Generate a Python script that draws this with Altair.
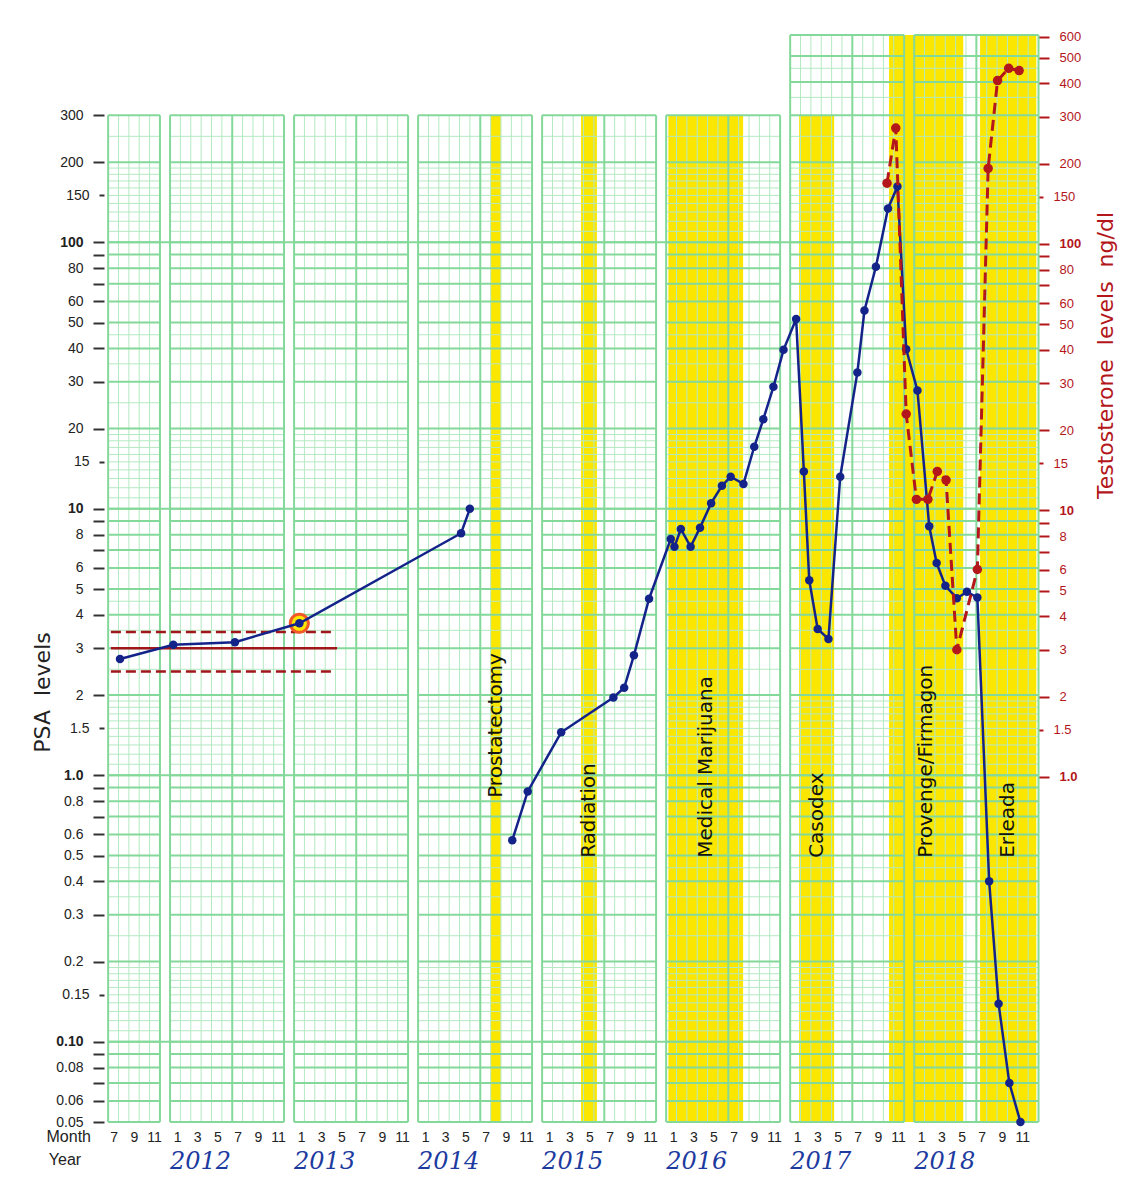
import altair as alt
import pandas as pd

# ---------------- layout of the time axis (month units, 1 = mid-January) ----------------
YEAR_SLOT = 12.28      # one year block incl. the white gap between blocks
COLUMN = 1.026         # width of one grid column of the paper
X_DOMAIN = [-7.23, 85.25]

# ---------------- PSA measurements ----------------
psa_dates = ["2011-08-04", "2012-01-04", "2012-07-07", "2013-01-10", "2014-05-02", "2014-05-28",
             "2014-10-04", "2014-11-20", "2015-02-21", "2015-07-26", "2015-08-28", "2015-09-27", "2015-11-12",
             "2016-01-08", "2016-01-19", "2016-02-08", "2016-03-07", "2016-04-05", "2016-05-08", "2016-06-10",
             "2016-07-06", "2016-08-14", "2016-09-16", "2016-10-13", "2016-11-13", "2016-12-13",
             "2017-01-12", "2017-02-05", "2017-02-21", "2017-03-16", "2017-04-18", "2017-05-23", "2017-07-14",
             "2017-08-05", "2017-09-09", "2017-10-15", "2017-11-13", "2017-12-09",
             "2018-01-04", "2018-02-09", "2018-03-01", "2018-03-27", "2018-05-01", "2018-06-01", "2018-07-02",
             "2018-08-07", "2018-09-05", "2018-10-07", "2018-11-10"]
psa_values = [2.73, 3.09, 3.16, 3.72, 8.1, 10.0,
              0.57, 0.87, 1.45, 1.96, 2.13, 2.82, 4.6,
              7.7, 7.2, 8.4, 7.2, 8.5, 10.5, 12.2, 13.2, 12.4, 17.1, 21.7, 28.7, 39.5,
              51.6, 13.8, 5.4, 3.54, 3.25, 13.2, 32.5, 55.5, 81, 134, 162, 39.7,
              27.8, 8.6, 6.26, 5.14, 4.62, 4.88, 4.65, 0.40, 0.139, 0.070, 0.050]
psa_segment = [1] * 6 + [2] * 43
highlight_date = "2013-01-10"
highlight_value = 3.72

# ---------------- Testosterone measurements (ng/dl) ----------------
t_dates = ["2017-10-12", "2017-11-08", "2017-12-09", "2018-01-01", "2018-02-05", "2018-03-03",
           "2018-03-29", "2018-05-01", "2018-07-02", "2018-08-04", "2018-09-02", "2018-10-05", "2018-11-06"]
t_values = [169, 272, 23, 11, 11, 14, 13, 3.0, 6.0, 192, 410, 456, 447]

# ---------------- treatment periods ----------------
band_names = ["Prostatectomy", "Radiation", "Medical Marijuana", "Casodex", "Provenge/Firmagon", "Erleada"]
band_start = ["2014-08-01", "2015-04-20", "2016-01-01", "2017-01-21", "2017-10-18", "2018-07-10"]
band_end = ["2014-08-30", "2015-06-07", "2016-08-13", "2017-05-05", "2018-05-20", "2018-12-27"]
band_top = [300, 300, 300, 300, 600, 600]
label_base = [0.823, 0.49, 0.49, 0.49, 0.49, 0.49]

# ---------------- normal PSA range ----------------
norm_from, norm_to, norm_dash_to = "2011-07-07", "2013-05-02", "2013-04-17"
norm_psa, norm_low, norm_high = 3.0, 2.45, 3.45

# ---------------- graph paper blocks ----------------
box_years = [2011, 2012, 2013, 2014, 2015, 2016, 2017, 2018]
box_start_rel = [5.46, -0.69, -0.69, -0.69, -0.69, -0.69, -0.69, -0.69]
box_cols = [5, 11, 11, 11, 11, 11, 11, 12]
box_top = [300, 300, 300, 300, 300, 300, 600, 600]
year_labels = ["2012", "2013", "2014", "2015", "2016", "2017", "2018"]
month_ticks = {2011: [7, 9, 11]}
for _y in range(2012, 2019):
    month_ticks[_y] = [1, 3, 5, 7, 9, 11]

psa_ticks = [0.05, 0.06, 0.07, 0.08, 0.09, 0.1, 0.15, 0.2, 0.3, 0.4, 0.5, 0.6, 0.7, 0.8, 0.9,
             1, 1.5, 2, 3, 4, 5, 6, 7, 8, 9, 10, 15, 20, 30, 40, 50, 60, 70, 80, 90, 100, 150, 200, 300]
t_ticks = [1, 1.5, 2, 3, 4, 5, 6, 7, 8, 9, 10, 15, 20, 30, 40, 50, 60, 70, 80, 90,
           100, 150, 200, 300, 400, 500, 600]

THICK = [1, 2, 3, 4, 5, 6, 7, 8, 9]
THIN = [1.1, 1.2, 1.3, 1.4, 1.5, 1.6, 1.7, 1.8, 1.9, 2.5, 3.5, 4.5]
DECADES = [0.01, 0.1, 1, 10, 100]

# ---------------- styles ----------------
YELLOW = "#fbe600"
G_THICK = "#84d99a"
G_THIN = "#b4e9c2"
BLUE = "#14238a"
RED = "#b3161b"
FONT = "Liberation Sans"


def t_of(s):
    y, m, d = (int(p) for p in s.split("-"))
    return (y - 2012) * YEAR_SLOT + (m - 1) + (d - 15) / 30.0


def levels(mults, top):
    out = []
    for d in DECADES:
        for m in mults:
            v = round(d * m, 6)
            if 0.05 - 1e-9 <= v <= top + 1e-9:
                out.append(v)
    return out


# ---------------- tables ----------------
psa_df = pd.DataFrame({"t": [t_of(s) for s in psa_dates], "psa": psa_values, "seg": psa_segment})
t_df = pd.DataFrame({"t": [t_of(s) for s in t_dates], "testo": t_values})
band_df = pd.DataFrame({
    "name": band_names,
    "t0": [t_of(s) for s in band_start],
    "t1": [t_of(s) for s in band_end],
    "top": band_top,
    "bottom": [0.05] * len(band_names),
    "base": label_base,
})
band_df["mid"] = (band_df["t0"] + band_df["t1"]) / 2

thin_rows, thick_rows = [], []
box_x0 = []
box_x1 = []
for yr, srel, cols, top in zip(box_years, box_start_rel, box_cols, box_top):
    x0 = (yr - 2012) * YEAR_SLOT + srel
    x1 = x0 + cols * COLUMN
    box_x0.append(x0)
    box_x1.append(x1)
    for v in levels(THIN, top):
        thin_rows.append({"x": x0, "x2": x1, "y": v, "y2": v})
    for v in levels(THICK, top):
        thick_rows.append({"x": x0, "x2": x1, "y": v, "y2": v})
    for k in range(cols + 1):
        xk = x0 + k * COLUMN
        row = {"x": xk, "x2": xk, "y": 0.05, "y2": top}
        if k in (0, cols) or (k == 6 and cols >= 11):
            thick_rows.append(row)
        else:
            thin_rows.append(row)
for v in [0.1, 1, 10, 100]:
    thick_rows.append({"x": box_x0[0], "x2": box_x1[-1], "y": v, "y2": v})
thin_df = pd.DataFrame(thin_rows)
thick_df = pd.DataFrame(thick_rows)

norm_df = pd.DataFrame({"x": [t_of(norm_from)], "x2": [t_of(norm_to)], "y": [norm_psa]})
dash_df = pd.DataFrame({"x": [t_of(norm_from)] * 2, "x2": [t_of(norm_dash_to)] * 2,
                        "y": [norm_low, norm_high]})
hl_df = pd.DataFrame({"t": [t_of(highlight_date)], "psa": [highlight_value]})

year_df = pd.DataFrame({"label": year_labels,
                        "x": [(int(y) - 2012) * YEAR_SLOT - 0.69 for y in year_labels]})
month_vals = [(y - 2012) * YEAR_SLOT + (m - 1) for y in sorted(month_ticks) for m in month_ticks[y]]

# ---------------- scales & axes ----------------
xs = alt.Scale(domain=X_DOMAIN, nice=False, zero=False)
ys = alt.Scale(type="log", domain=[0.05, 600], nice=False)
ts = alt.Scale(type="log", domain=[0.0507, 608], nice=False)

SHORT = "datum.value == 150 || datum.value == 15 || datum.value == 1.5 || datum.value == 0.15"
BOLD = "datum.value == 100 || datum.value == 10 || datum.value == 1 || datum.value == 0.1"

left_axis = alt.Axis(
    values=psa_ticks, orient="left", grid=False, domain=False,
    tickSize={"condition": {"test": SHORT, "value": 5}, "value": 11},
    tickWidth=2, tickColor="#333",
    labelExpr="datum.value == 1 ? '1.0' : datum.value == 0.1 ? '0.10' : "
              "(indexof([90,70,9,7,0.9,0.7,0.09,0.07], datum.value) >= 0 ? '' : format(datum.value, '~g'))",
    labelFont=FONT, labelFontSize=14, labelColor="#222", labelPadding=10,
    labelFontWeight={"condition": {"test": BOLD, "value": "bold"}, "value": "normal"},
    labelOverlap=False, labelFlush=False,
    title="PSA\u00a0 levels", titleFont="DejaVu Sans", titleFontSize=22, titleFontWeight="normal",
    titleColor="#222", titleAngle=270, titleX=-62, titleY=657, titleAlign="center",
    titleBaseline="middle",
)
right_axis = alt.Axis(
    values=t_ticks, orient="right", grid=False, domain=False,
    tickSize={"condition": {"test": SHORT, "value": 5}, "value": 11},
    tickWidth=2, tickColor=RED,
    labelExpr="datum.value == 1 ? '1.0' : "
              "(indexof([90,70,9,7], datum.value) >= 0 ? '' : format(datum.value, '~g'))",
    labelFont=FONT, labelFontSize=13, labelColor=RED, labelPadding=10,
    labelFontWeight={"condition": {"test": BOLD, "value": "bold"}, "value": "normal"},
    labelOverlap=False, labelFlush=False,
    title="Testosterone\u00a0 levels\u00a0 ng/dl", titleFont="DejaVu Sans", titleFontSize=22,
    titleFontWeight="normal", titleColor=RED, titleAngle=270, titleX=67, titleY=320,
    titleAlign="center", titleBaseline="middle",
)
x_axis = alt.Axis(
    values=month_vals, orient="bottom", grid=False, domain=False, ticks=False,
    labelExpr=f"round(datum.value - {YEAR_SLOT}*floor((datum.value + 1)/{YEAR_SLOT})) + 1",
    labelFont=FONT, labelFontSize=14, labelColor="#222", labelPadding=8,
    labelOverlap=False, labelFlush=False, labelAngle=0, title=None,
)

# ---------------- layers ----------------
bands = alt.Chart(band_df).mark_rect(color=YELLOW).encode(
    x=alt.X("t0:Q", scale=xs, axis=None), x2="t1",
    y=alt.Y("bottom:Q", scale=ys, axis=None), y2="top")

grid_thin = alt.Chart(thin_df).mark_rule(color=G_THIN, strokeWidth=1).encode(
    x=alt.X("x:Q", scale=xs, axis=None), x2="x2",
    y=alt.Y("y:Q", scale=ys, axis=None), y2="y2")
grid_thick = alt.Chart(thick_df).mark_rule(color=G_THICK, strokeWidth=2).encode(
    x=alt.X("x:Q", scale=xs, axis=None), x2="x2",
    y=alt.Y("y:Q", scale=ys, axis=None), y2="y2")

norm_solid = alt.Chart(norm_df).mark_rule(color="#a0161a", strokeWidth=2.5).encode(
    x=alt.X("x:Q", scale=xs, axis=None), x2="x2",
    y=alt.Y("y:Q", scale=ys, axis=None))
norm_dash = alt.Chart(dash_df).mark_rule(color="#a0161a", strokeWidth=2.5, strokeDash=[10, 5]).encode(
    x=alt.X("x:Q", scale=xs, axis=None), x2="x2",
    y=alt.Y("y:Q", scale=ys, axis=None))

highlight = alt.Chart(hl_df).mark_circle(size=330, color="#ffe600", opacity=1,
                                         stroke="#f05a28", strokeWidth=3).encode(
    x=alt.X("t:Q", scale=xs, axis=None), y=alt.Y("psa:Q", scale=ys, axis=None))

psa_line = alt.Chart(psa_df).mark_line(color=BLUE, strokeWidth=2.5).encode(
    x=alt.X("t:Q", scale=xs, axis=x_axis),
    y=alt.Y("psa:Q", scale=ys, axis=left_axis),
    detail="seg:N")
psa_pts = alt.Chart(psa_df).mark_circle(color=BLUE, size=72, opacity=1).encode(
    x=alt.X("t:Q", scale=xs, axis=None), y=alt.Y("psa:Q", scale=ys, axis=None))

band_text = alt.Chart(band_df).mark_text(
    angle=270, align="left", baseline="middle", font="DejaVu Sans", fontSize=20, color="#111").encode(
    x=alt.X("mid:Q", scale=xs, axis=None), y=alt.Y("base:Q", scale=ys, axis=None), text="name:N")

month_word = alt.Chart(pd.DataFrame({"w": ["Month"]})).mark_text(
    align="right", baseline="middle", font=FONT, fontSize=16, color="#222").encode(
    x=alt.value(-13), y=alt.value(1102), text="w:N")
year_word = alt.Chart(pd.DataFrame({"w": ["Year"]})).mark_text(
    align="center", baseline="middle", font=FONT, fontSize=16, color="#222").encode(
    x=alt.value(-39), y=alt.value(1125), text="w:N")
year_text = alt.Chart(year_df).mark_text(
    align="left", baseline="middle", font="DejaVu Serif", fontStyle="italic", fontSize=24,
    color="#1d3b9f").encode(
    x=alt.X("x:Q", scale=xs, axis=None), y=alt.value(1127), text="label:N")

t_line = alt.Chart(t_df).mark_line(color=RED, strokeWidth=3, strokeDash=[11, 6]).encode(
    x=alt.X("t:Q", scale=xs, axis=None),
    y=alt.Y("testo:Q", scale=ts, axis=right_axis))
t_pts = alt.Chart(t_df).mark_circle(color=RED, size=90, opacity=1).encode(
    x=alt.X("t:Q", scale=xs, axis=None), y=alt.Y("testo:Q", scale=ts, axis=None))

psa_layer = alt.layer(bands, grid_thin, grid_thick, norm_solid, norm_dash, highlight,
                      psa_line, psa_pts, band_text, month_word, year_word, year_text
                      ).resolve_axis(x="independent", y="independent")
t_layer = alt.layer(t_line, t_pts).resolve_axis(x="independent", y="independent")

chart = alt.layer(psa_layer, t_layer).resolve_scale(y="independent").resolve_axis(
    x="independent", y="independent").properties(
    width=934, height=1087,
    autosize=alt.AutoSizeParams(type="none"),
    padding={"left": 96, "top": 27, "right": 88, "bottom": 70},
    background="white",
).configure_view(stroke=None)

chart.save("out.html", embed_options={"renderer": "svg", "actions": False})
